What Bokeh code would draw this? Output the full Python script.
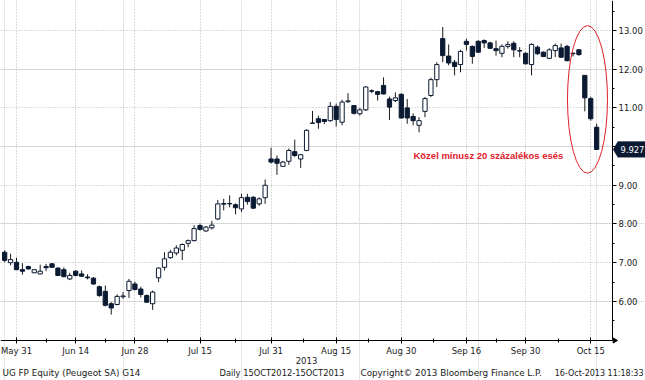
import numpy as np
import pandas as pd
from bokeh.plotting import figure
from bokeh.models import (ColumnDataSource, FixedTicker, Label, PolyAnnotation, Range1d,
                          NumeralTickFormatter, LinearAxis, Grid, BoxAnnotation)
from bokeh.embed import file_html
from bokeh.resources import INLINE

# ---- data ----
dates = pd.bdate_range("2013-05-29", "2013-10-16")

opens = [7.27, 7.00, 7.01, 6.82, 6.90, 6.74, 6.71, 6.90, 6.97, 6.86,
         6.82, 6.58, 6.78, 6.71, 6.63, 6.60, 6.38, 6.26, 5.94, 5.92,
         6.12, 6.28, 6.45, 6.32, 6.15, 5.94, 6.61, 6.88, 7.13, 7.25,
         7.32, 7.50, 7.57, 7.96, 7.82, 7.90, 8.13, 8.51, 8.53, 8.50,
         8.39, 8.69, 8.69, 8.52, 8.68, 9.68, 9.68, 9.49, 9.62, 9.87,
         9.68, 9.90, 10.60, 10.72, 10.70, 10.67, 11.04, 10.63, 11.16, 11.06,
         10.85, 10.95, 11.44, 11.42, 11.58, 11.23, 11.19, 11.35, 11.00, 10.78,
         10.55, 10.91, 11.32, 11.73, 12.79, 12.34, 12.18, 12.12, 12.72, 12.59,
         12.72, 12.74, 12.68, 12.53, 12.41, 12.59, 12.67, 12.48, 12.41, 12.12,
         12.57, 12.44, 12.28, 12.48, 12.55, 12.59, 12.41, 12.50, 11.84, 11.24,
         10.50]
highs = [7.32, 7.23, 7.13, 6.99, 6.92, 6.83, 6.95, 6.97, 6.99, 6.88,
         6.88, 6.74, 6.81, 6.80, 6.70, 6.63, 6.41, 6.41, 5.98, 6.18,
         6.24, 6.58, 6.51, 6.38, 6.18, 6.28, 6.88, 7.27, 7.33, 7.45,
         7.50, 7.60, 7.97, 8.01, 7.95, 8.08, 8.62, 8.65, 8.74, 8.53,
         8.78, 8.78, 8.72, 8.69, 9.15, 9.97, 9.77, 9.63, 9.95, 10.18,
         9.81, 10.45, 10.92, 10.80, 10.71, 11.15, 11.11, 11.21, 11.38, 11.06,
         11.00, 11.56, 11.48, 11.44, 11.79, 11.29, 11.40, 11.38, 11.23, 10.86,
         10.76, 11.28, 11.78, 12.18, 13.09, 12.64, 12.24, 12.50, 12.79, 12.61,
         12.75, 12.77, 12.71, 12.74, 12.64, 12.72, 12.72, 12.57, 12.44, 12.67,
         12.61, 12.46, 12.54, 12.66, 12.66, 12.63, 12.44, 12.52, 11.84, 11.29,
         10.59]
lows = [7.01, 6.93, 6.81, 6.69, 6.82, 6.73, 6.70, 6.78, 6.88, 6.66,
        6.62, 6.55, 6.65, 6.64, 6.57, 6.43, 6.12, 5.87, 5.66, 5.90,
        6.07, 6.09, 6.28, 6.10, 5.96, 5.78, 6.50, 6.80, 7.10, 7.19,
        7.07, 7.40, 7.55, 7.83, 7.80, 7.86, 8.10, 8.35, 8.43, 8.25,
        8.31, 8.50, 8.39, 8.47, 8.52, 9.56, 9.27, 9.48, 9.53, 9.73,
        9.45, 9.88, 10.59, 10.46, 10.58, 10.64, 10.52, 10.55, 11.13, 10.83,
        10.80, 10.92, 11.38, 11.19, 11.35, 10.69, 11.15, 10.72, 10.59, 10.55,
        10.37, 10.76, 11.28, 11.54, 12.18, 12.10, 11.84, 11.92, 12.48, 12.14,
        12.42, 12.55, 12.53, 12.35, 12.31, 12.53, 12.31, 12.31, 12.12, 11.84,
        12.37, 12.31, 12.26, 12.31, 12.29, 12.20, 12.33, 12.34, 10.91, 10.67,
        9.92]
closes = [7.06, 7.08, 6.82, 6.78, 6.84, 6.82, 6.78, 6.87, 6.88, 6.67,
          6.64, 6.67, 6.67, 6.65, 6.61, 6.45, 6.15, 5.90, 5.83, 6.13,
          6.14, 6.52, 6.31, 6.18, 5.98, 6.24, 6.86, 7.10, 7.27, 7.38,
          7.47, 7.57, 7.88, 7.86, 7.92, 7.97, 8.52, 8.53, 8.52, 8.42,
          8.68, 8.58, 8.41, 8.65, 9.00, 9.60, 9.57, 9.60, 9.90, 9.77,
          9.79, 10.42, 10.61, 10.62, 10.65, 11.04, 10.70, 11.15, 11.18, 10.86,
          10.95, 11.54, 11.43, 11.35, 11.36, 11.02, 11.26, 10.74, 10.74, 10.67,
          10.67, 11.24, 11.73, 12.12, 12.35, 12.16, 12.07, 12.46, 12.64, 12.33,
          12.44, 12.68, 12.54, 12.48, 12.59, 12.64, 12.50, 12.47, 12.14, 12.64,
          12.40, 12.33, 12.50, 12.61, 12.31, 12.22, 12.40, 12.38, 11.26, 10.72,
          9.927]

tick_dates = ["2013-05-31", "2013-06-14", "2013-06-28", "2013-07-15", "2013-07-31",
              "2013-08-15", "2013-08-30", "2013-09-16", "2013-09-30", "2013-10-15"]
tick_labels = ["May 31", "Jun 14", "Jun 28", "Jul 15", "Jul 31",
               "Aug 15", "Aug 30", "Sep 16", "Sep 30", "Oct 15"]
y_ticks = [6, 7, 8, 9, 10, 11, 12, 13]
last_price = 9.927
annotation_text = "Közel mínusz 20 százalékos esés"
footer_left = "UG FP Equity (Peugeot SA) G14"
footer_mid = "Daily 15OCT2012-15OCT2013"
footer_copy = "Copyright\u00a9 2013 Bloomberg Finance L.P."
footer_time = "16-Oct-2013 11:18:33"
year_label = "2013"

# ---- styling / layout ----
NAVY = "#0b1a33"
GRID = "#b8b8b8"
RED = "#e0202a"
FONT = "DejaVu Sans"
TXT = "#1a1a1a"
W, H = 645, 380

X0, X1 = -0.703, 108.25       # whole canvas width in day-index units
XP = 102.68                   # where the price axis sits
Y0, Y1 = 3.956, 13.775        # whole canvas height in price units
YB = 4.99                     # where the time axis sits

n = len(dates)
xs = np.arange(n)
o = np.array(opens); c = np.array(closes)
up = c >= o
src = ColumnDataSource(dict(
    x=xs, high=highs, low=lows,
    top=np.maximum(o, c), bottom=np.minimum(o, c),
    fill=np.where(up, "white", NAVY),
))

date_index = {d.strftime("%Y-%m-%d"): i for i, d in enumerate(dates)}
tick_pos = [date_index[d] for d in tick_dates]
minor_pos = [(a + b) / 2 for a, b in zip(tick_pos[:-1], tick_pos[1:])]

p = figure(width=W, height=H, output_backend="svg", toolbar_location=None,
           x_axis_location=None, y_axis_location=None,
           x_range=Range1d(X0, X1), y_range=Range1d(Y0, Y1),
           min_border=0, min_border_left=0, min_border_right=0,
           min_border_top=0, min_border_bottom=0)
p.title.visible = False
p.outline_line_color = None
p.background_fill_color = "white"
p.border_fill_color = "white"

# axes drawn at fixed positions inside the canvas
xa = LinearAxis(fixed_location=YB, bounds=(X0, XP),
                ticker=FixedTicker(ticks=tick_pos, minor_ticks=minor_pos))
xa.major_label_overrides = {t: lab for t, lab in zip(tick_pos, tick_labels)}
xa.major_label_text_font = FONT
xa.major_label_text_font_size = "8.5px"
xa.major_label_text_color = TXT
xa.major_label_standoff = 3
xa.major_tick_in = 3
xa.major_tick_out = 3
xa.minor_tick_in = 2
xa.minor_tick_out = 2
xa.axis_line_color = "black"
p.add_layout(xa, "below")

ya = LinearAxis(fixed_location=XP, bounds=(YB, Y1),
                ticker=FixedTicker(ticks=y_ticks, minor_ticks=[t + 0.5 for t in [5] + y_ticks]))
ya.formatter = NumeralTickFormatter(format="0.00")
ya.major_label_text_font = FONT
ya.major_label_text_font_size = "8.5px"
ya.major_label_text_color = TXT
ya.major_label_standoff = 2
ya.major_tick_in = 0
ya.major_tick_out = 4
ya.minor_tick_in = 0
ya.minor_tick_out = 2
ya.axis_line_color = "black"
p.add_layout(ya, "right")

has_cross = "cross_bounds" in Grid.properties()
xg = Grid(dimension=0, ticker=FixedTicker(ticks=tick_pos), grid_line_color=GRID,
          grid_line_dash="1 2", grid_line_width=1)
yg = Grid(dimension=1, ticker=FixedTicker(ticks=y_ticks), grid_line_color=GRID,
          grid_line_dash="1 2", grid_line_width=1)
if has_cross:
    xg.cross_bounds = (YB, Y1)
    yg.cross_bounds = (X0, XP)
p.add_layout(xg)
p.add_layout(yg)
if not has_cross:
    p.add_layout(BoxAnnotation(left=XP, fill_color="white", fill_alpha=1, line_color=None, level="glyph"))
    p.add_layout(BoxAnnotation(top=YB, fill_color="white", fill_alpha=1, line_color=None, level="glyph"))

# small arrow head at the end of the time axis
p.scatter(x=[XP + 0.35], y=[YB], marker="triangle", angle=-np.pi / 2, size=5,
          fill_color="black", line_color="black")

# candles
p.segment(x0="x", y0="high", x1="x", y1="low", source=src, line_color="#1a1a1a", line_width=1)
p.vbar(x="x", width=0.72, top="top", bottom="bottom", source=src,
       fill_color="fill", line_color=NAVY, line_width=1)

# ellipse highlighting the fall
ell_x, ell_y, ell_w, ell_h = 98.45, 11.22, 6.76, 3.82
p.ellipse(x=[ell_x], y=[ell_y], width=[ell_w], height=[ell_h],
          fill_alpha=0, line_color=RED, line_width=1)

p.add_layout(Label(x=69.05, y=9.77, text=annotation_text, text_color=RED,
                   text_font="Liberation Sans", text_font_size="9.5px", text_font_style="bold",
                   text_baseline="middle", text_align="left"))

# last price tag
h = 0.205
p.add_layout(PolyAnnotation(xs=[XP + 0.1, XP + 0.9, X1 + 1, X1 + 1, XP + 0.9],
                            ys=[last_price, last_price + h, last_price + h, last_price - h, last_price - h],
                            fill_color=NAVY, fill_alpha=1, line_color=NAVY, line_width=1))
p.add_layout(Label(x=632, x_units="screen", y=last_price, text=f"{last_price:.3f}",
                   text_color="white", text_font=FONT, text_font_size="8.3px",
                   text_align="center", text_baseline="middle"))

# year and footer
p.add_layout(Label(x=306, x_units="screen", y=4.48, text=year_label, text_font=FONT,
                   text_font_size="8.5px", text_color=TXT, text_baseline="middle",
                   text_align="center"))
fy = 4.14
p.add_layout(Label(x=2, x_units="screen", y=fy, text=footer_left, text_font=FONT,
                   text_font_size="8.8px", text_color=TXT, text_baseline="middle"))
p.add_layout(Label(x=219, x_units="screen", y=fy, text=footer_mid, text_font=FONT,
                   text_font_size="8.3px", text_color=TXT, text_baseline="middle"))
p.add_layout(Label(x=360, x_units="screen", y=fy, text=footer_copy, text_font=FONT,
                   text_font_size="8.8px", text_color=TXT, text_baseline="middle"))
p.add_layout(Label(x=643, x_units="screen", y=fy, text=footer_time, text_font=FONT,
                   text_font_size="8px", text_color=TXT, text_baseline="middle",
                   text_align="right"))

open("out.html", "w").write(file_html(p, INLINE))
